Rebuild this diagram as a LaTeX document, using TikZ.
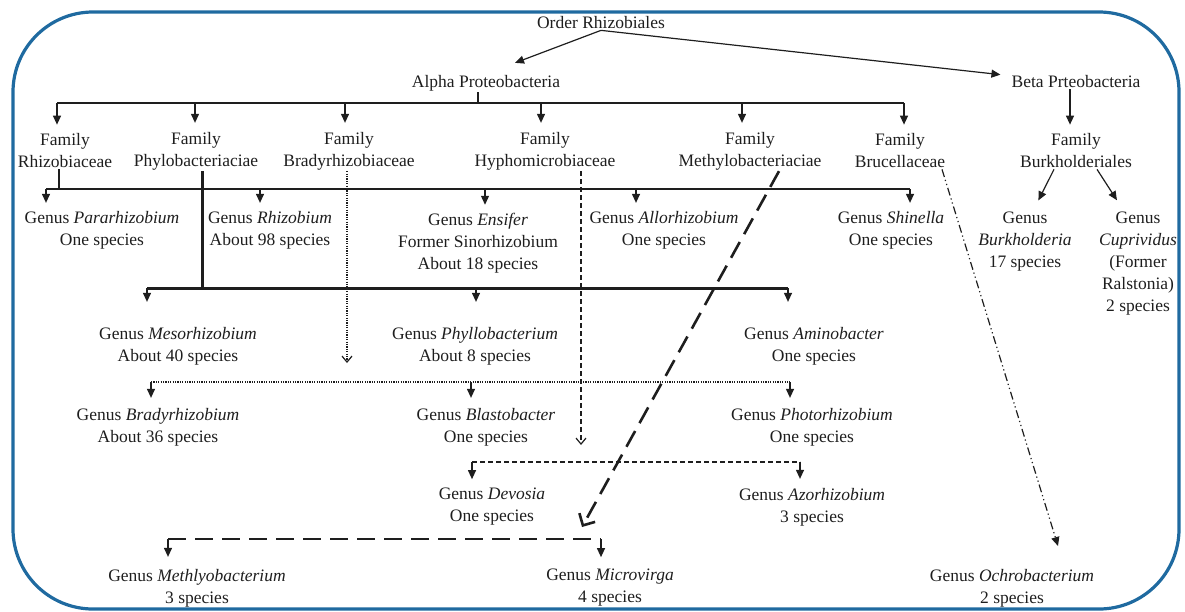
\documentclass[tikz,border=0pt]{standalone}
\usepackage{fontspec}
\setmainfont{Liberation Serif}
\usetikzlibrary{arrows.meta}
\definecolor{frameblue}{RGB}{31,106,160}
\definecolor{ink}{RGB}{30,30,30}

\begin{document}
\begin{tikzpicture}[x=1pt,y=-1pt,
  every node/.style={font=\fontsize{17.5}{22}\selectfont,align=center,inner sep=1pt,text=ink},
  link/.style={line width=1.2pt,draw=ink},
  tip/.style={-{Triangle[length=9pt,width=8pt]}},
  drop/.style={link,tip,shorten >=#1},
  thickbus/.style={line width=3pt,draw=ink},
  dotline/.style={link,dash pattern=on 1.2pt off 1.2pt},
  dashline/.style={link,dash pattern=on 5pt off 3pt},
  longdash/.style={line width=2.6pt,draw=ink,dash pattern=on 18pt off 9pt},
  dashdot/.style={link,dash pattern=on 8pt off 3pt on 1.2pt off 3pt on 1.2pt off 3pt},
  openhead/.style={-{Straight Barb[length=6pt,width=10pt]}}]

\useasboundingbox (0,0) rectangle (1185,611);
% frame
\draw[frameblue,line width=3.2pt,rounded corners=80pt] (13,12) rectangle (1179,609);

% order and classes
\node (order) at (601,23) {Order Rhizobiales};
\node (alpha) at (486,83) {Alpha Proteobacteria};
\node (beta) at (1076,82) {Beta Prteobacteria};

% families
\node (frhizo) at (65,151) {Family\\Rhizobiaceae};
\node (fphylo) at (196,151) {Family\\Phylobacteriaciae};
\node (fbrady) at (349,151) {Family\\Bradyrhizobiaceae};
\node (fhypho) at (545,151) {Family\\Hyphomicrobiaceae};
\node (fmethy) at (750,151) {Family\\Methylobacteriaciae};
\node (fbruce) at (900,151) {Family\\Brucellaceae};
\node (fburk) at (1076,151) {Family\\Burkholderiales};

% genera
\node (gpara) at (102,230) {Genus \textit{Pararhizobium}\\One species};
\node (grhizo) at (270,230) {Genus \textit{Rhizobium}\\About 98 species};
\node (gensif) at (478,243) {Genus \textit{Ensifer}\\Former Sinorhizobium\\About 18 species};
\node (gallo) at (664,230) {Genus \textit{Allorhizobium}\\One species};
\node (gshin) at (891,230) {Genus \textit{Shinella}\\One species};
\node (gburk) at (1025,242) {Genus\\\textit{Burkholderia}\\17 species};
\node (gcupr) at (1138,264) {Genus\\\textit{Cuprividus}\\(Former\\Ralstonia)\\2 species};

\node (gmeso) at (178,346) {Genus \textit{Mesorhizobium}\\About 40 species};
\node (gphyl) at (475,346) {Genus \textit{Phyllobacterium}\\About 8 species};
\node (gamin) at (814,346) {Genus \textit{Aminobacter}\\One species};

\node (gbrad) at (158,427) {Genus \textit{Bradyrhizobium}\\About 36 species};
\node (gblas) at (486,427) {Genus \textit{Blastobacter}\\One species};
\node (gphot) at (812,427) {Genus \textit{Photorhizobium}\\One species};

\node (gdevo) at (492,507) {Genus \textit{Devosia}\\One species};
\node (gazor) at (812,507) {Genus \textit{Azorhizobium}\\3 species};

\node (gmeth) at (197,588) {Genus \textit{Methlyobacterium}\\3 species};
\node (gmicr) at (610,588) {Genus \textit{Microvirga}\\4 species};
\node (gochr) at (1012,588) {Genus \textit{Ochrobacterium}\\2 species};

% bus points
\coordinate (ab1) at (57,103);  \coordinate (ab2) at (195,103);
\coordinate (ab3) at (345,103); \coordinate (ab4) at (541,103);
\coordinate (ab5) at (742,103); \coordinate (ab6) at (904,103);
\coordinate (rb1) at (46,189);  \coordinate (rb2) at (260,189);
\coordinate (rb3) at (485,189); \coordinate (rb4) at (636,189);
\coordinate (rb5) at (910,189);
\coordinate (pb1) at (147,288); \coordinate (pb2) at (476,288);
\coordinate (pb3) at (788,288);
\coordinate (db1) at (151,382); \coordinate (db2) at (471,382);
\coordinate (db3) at (790,382);
\coordinate (hb1) at (472,462); \coordinate (hb2) at (800,462);
\coordinate (mb1) at (168,539); \coordinate (mb2) at (601,539);
\coordinate (bradytip) at (347,363);
\coordinate (hyphotip) at (581,445);
\coordinate (methytip) at (582,527);
\coordinate (bructip) at (1058,546);

% order to classes
\draw[link,tip] (order.south) -- ([shift={(29,-11)}]alpha.north);
\draw[link,tip] (order.south) -- ([xshift=-10pt]beta.north west);

% alpha to families
\draw[link] ([xshift=-8pt]alpha.south) -- ([xshift=-8pt]alpha.south |- ab1);
\draw[link] (ab1) -- (ab6);
\foreach \c/\f in {ab1/frhizo,ab2/fphylo,ab3/fbrady,ab4/fhypho,ab5/fmethy,ab6/fbruce}
  \draw[drop=8pt] (\c) -- (\c |- \f.north);

% beta branch
\draw[drop=8pt] ([xshift=-6pt]beta.south) -- ([xshift=-6pt]beta.south |- fburk.north);
\draw[link,tip,shorten >=12pt] ([xshift=-22pt]fburk.south) -- ([xshift=8pt]gburk.north);
\draw[link,tip,shorten >=13pt] ([xshift=21pt]fburk.south) -- ([xshift=-14pt]gcupr.north);

% Rhizobiaceae
\draw[link] ([xshift=-6pt]frhizo.south) -- ([xshift=-6pt]frhizo.south |- rb1);
\draw[link] (rb1) -- (rb5);
\foreach \c/\g in {rb1/gpara,rb2/grhizo,rb3/gensif,rb4/gallo,rb5/gshin}
  \draw[drop=7pt] (\c) -- (\c |- \g.north);

% Phylobacteriaciae
\draw[thickbus] ([xshift=6pt]fphylo.south) -- ([xshift=6pt]fphylo.south |- pb1);
\draw[thickbus] (pb1) -- (pb3);
\foreach \c/\g in {pb1/gmeso,pb2/gphyl,pb3/gamin}
  \draw[drop=24pt] (\c) -- (\c |- \g.north);

% Bradyrhizobiaceae
\draw[dotline,openhead] (bradytip |- fbrady.south) -- (bradytip);
\draw[dotline] (db1) -- (db3);
\foreach \c/\g in {db1/gbrad,db2/gblas,db3/gphot}
  \draw[drop=9pt] (\c) -- (\c |- \g.north);

% Hyphomicrobiaceae
\draw[dashline,openhead] (hyphotip |- fhypho.south) -- (hyphotip);
\draw[dashline] (hb1) -- (hb2);
\foreach \c/\g in {hb1/gdevo,hb2/gazor}
  \draw[drop=8pt] (\c) -- (\c |- \g.north);

% Methylobacteriaciae
\draw[longdash,-{Straight Barb[length=9pt,width=18pt]}] ([xshift=29pt]fmethy.south) -- (methytip);
\draw[longdash] (mb1) -- (mb2);
\foreach \c/\g in {mb1/gmeth,mb2/gmicr}
  \draw[drop=11pt] (\c) -- (\c |- \g.north);

% Brucellaceae
\draw[dashdot,tip] ([xshift=42pt]fbruce.south) -- (bructip);
\end{tikzpicture}
\end{document}
